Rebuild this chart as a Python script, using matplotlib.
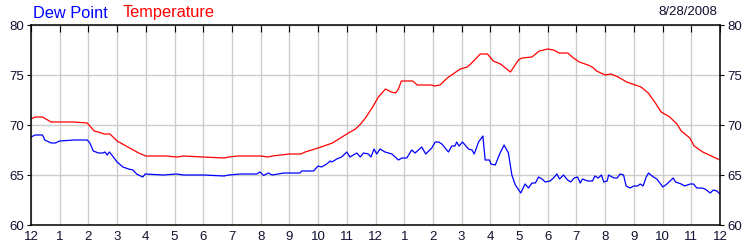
import matplotlib
matplotlib.use("Agg")
import matplotlib.pyplot as plt

plt.rcParams['font.family'] = ['Liberation Sans', 'DejaVu Sans']

# Hours since midnight (0..24)
temp_hours = [0.0, 0.15, 0.4, 0.7, 1.0, 1.5, 1.96, 2.2, 2.35, 2.55, 2.75, 3.0, 3.25, 3.5, 3.75, 4.0,
              4.7, 5.1, 5.3, 6.0, 6.72, 6.9, 7.2, 8.0, 8.25, 8.4, 9.0, 9.4, 9.55, 10.0, 10.5, 11.0,
              11.3, 11.45, 11.65, 11.9, 12.1, 12.35, 12.55, 12.7, 12.8, 12.9, 13.3, 13.45, 13.95, 14.05,
              14.25, 14.5, 14.95, 15.2, 15.35, 15.65, 15.9, 16.1, 16.35, 16.7, 16.98, 17.1, 17.45, 17.7,
              18.0, 18.2, 18.4, 18.7, 18.85, 19.1, 19.4, 19.55, 19.7, 20.0, 20.2, 20.45, 20.75, 21.05,
              21.25, 21.5, 21.75, 21.95, 22.25, 22.5, 22.65, 22.95, 23.1, 23.4, 23.7, 24.0]
temp_vals = [70.6, 70.8, 70.8, 70.3, 70.3, 70.3, 70.2, 69.4, 69.3, 69.1, 69.1, 68.4, 68.0, 67.6, 67.2, 66.9,
             66.9, 66.8, 66.9, 66.8, 66.7, 66.8, 66.9, 66.9, 66.8, 66.9, 67.1, 67.1, 67.3, 67.7, 68.2, 69.1,
             69.6, 70.0, 70.7, 71.8, 72.8, 73.6, 73.3, 73.2, 73.6, 74.4, 74.4, 74.0, 74.0, 73.9,
             74.0, 74.7, 75.6, 75.8, 76.2, 77.1, 77.1, 76.4, 76.1, 75.3, 76.5, 76.7, 76.8, 77.4,
             77.6, 77.5, 77.2, 77.2, 76.8, 76.3, 76.0, 75.8, 75.4, 75.0, 75.1, 74.8, 74.3, 74.0,
             73.8, 73.2, 72.2, 71.3, 70.8, 70.1, 69.4, 68.7, 67.9, 67.3, 66.9, 66.5]

dew_hours = [0.0, 0.15, 0.4, 0.48, 0.7, 0.85, 1.0, 1.5, 1.96, 2.05, 2.17, 2.35, 2.5, 2.58, 2.65, 2.73,
             2.87, 3.0, 3.2, 3.4, 3.55, 3.68, 3.89, 3.98, 4.6, 5.08, 5.3, 6.0, 6.72, 6.9, 7.3, 7.86, 7.98,
             8.1, 8.27, 8.4, 8.8, 9.37, 9.43, 9.84, 10.0, 10.12, 10.3, 10.42, 10.48, 10.65, 10.82,
             11.0, 11.11, 11.35, 11.47, 11.58, 11.75, 11.84, 11.95, 12.04, 12.16, 12.33, 12.57, 12.8,
             12.92, 13.09, 13.26, 13.38, 13.61, 13.75, 13.96, 14.08, 14.2, 14.31, 14.54, 14.66, 14.77,
             14.83, 14.91, 15.03, 15.24, 15.36, 15.44, 15.59, 15.74, 15.82, 15.97, 16.02, 16.17, 16.34,
             16.48, 16.63, 16.75, 16.87, 17.06, 17.21, 17.33, 17.45, 17.57, 17.68, 17.8, 17.91, 18.08,
             18.2, 18.32, 18.41, 18.55, 18.69, 18.8, 18.92, 19.04, 19.13, 19.21, 19.39, 19.56, 19.64,
             19.76, 19.87, 19.95, 20.07, 20.12, 20.3, 20.42, 20.52, 20.64, 20.73, 20.87, 20.99, 21.13,
             21.22, 21.32, 21.43, 21.51, 21.68, 21.8, 22.01, 22.15, 22.37, 22.45, 22.65, 22.77, 22.96,
             23.08, 23.19, 23.36, 23.48, 23.66, 23.77, 23.89, 24.0]
dew_vals = [68.8, 69.0, 69.0, 68.5, 68.2, 68.2, 68.4, 68.5, 68.5, 68.2, 67.4, 67.2, 67.2, 67.3, 67.0, 67.3,
            66.8, 66.3, 65.8, 65.6, 65.5, 65.1, 64.8, 65.1, 65.0, 65.1, 65.0, 65.0, 64.9, 65.0, 65.1, 65.1, 65.3,
            64.95, 65.2, 65.0, 65.2, 65.2, 65.4, 65.4, 65.9, 65.8, 66.1, 66.4, 66.3, 66.6, 66.8,
            67.3, 66.8, 67.2, 66.8, 67.2, 67.1, 66.8, 67.6, 67.1, 67.6, 67.3, 67.1, 66.5,
            66.7, 66.7, 67.5, 67.2, 67.8, 67.1, 67.7, 68.3, 68.3, 68.1, 67.3, 67.9, 67.9,
            68.3, 67.9, 68.3, 67.6, 67.5, 67.1, 68.3, 68.9, 66.5, 66.5, 66.1, 66.0, 67.2,
            68.0, 67.2, 65.0, 64.0, 63.2, 64.1, 63.7, 64.2, 64.2, 64.8, 64.6, 64.3, 64.4,
            64.7, 65.1, 64.6, 65.0, 64.5, 64.3, 64.7, 64.8, 64.2, 64.6, 64.4, 64.4, 64.9,
            64.7, 65.0, 64.3, 64.4, 65.0, 64.7, 64.7, 65.1, 65.0, 63.9, 63.7, 63.9, 63.9,
            64.1, 63.9, 64.8, 65.2, 64.8, 64.6, 63.8, 64.1, 64.7, 64.3, 64.1, 63.9, 64.1,
            64.1, 63.7, 63.7, 63.6, 63.2, 63.5, 63.4, 63.1]

x_ticks = list(range(0, 25))
x_labels = ['12', '1', '2', '3', '4', '5', '6', '7', '8', '9', '10', '11',
            '12', '1', '2', '3', '4', '5', '6', '7', '8', '9', '10', '11', '12']
y_ticks = [60, 65, 70, 75, 80]

fig = plt.figure(figsize=(7.5, 2.5), dpi=100)
ax = fig.add_axes([31 / 750, 25 / 250, 689 / 750, 200 / 250])

ax.plot(temp_hours, temp_vals, color='#ff0000', lw=0.9)
ax.plot(dew_hours, dew_vals, color='#0000ff', lw=0.9)

ax.set_xlim(0, 24)
ax.set_ylim(60, 80)
ax.set_xticks(x_ticks)
ax.set_xticklabels(x_labels)
ax.set_yticks(y_ticks)
ax.grid(True, color='#cccccc', lw=1)
ax.set_axisbelow(True)
for s in ax.spines.values():
    s.set_color('black')
    s.set_linewidth(1.1)

ax.tick_params(axis='x', which='both', bottom=False, top=True, direction='in', length=5,
               labelsize=9.5, labelcolor='#101030', pad=4)
ax.tick_params(axis='y', which='both', left=True, right=True, labelleft=True, labelright=True,
               direction='out', length=3, labelsize=9.5, labelcolor='#101030', pad=2)

fig.text(33 / 750, 1 - 13 / 250, 'Dew Point', color='#0000ff', fontsize=11.8, va='center', ha='left')
fig.text(123 / 750, 1 - 13 / 250, 'Temperature', color='#ff0000', fontsize=11.8, va='center', ha='left')
fig.text(717 / 750, 1 - 12 / 250, '8/28/2008', color='#101030', fontsize=9.5, va='center', ha='right')

fig.savefig('out.png', dpi=100)
